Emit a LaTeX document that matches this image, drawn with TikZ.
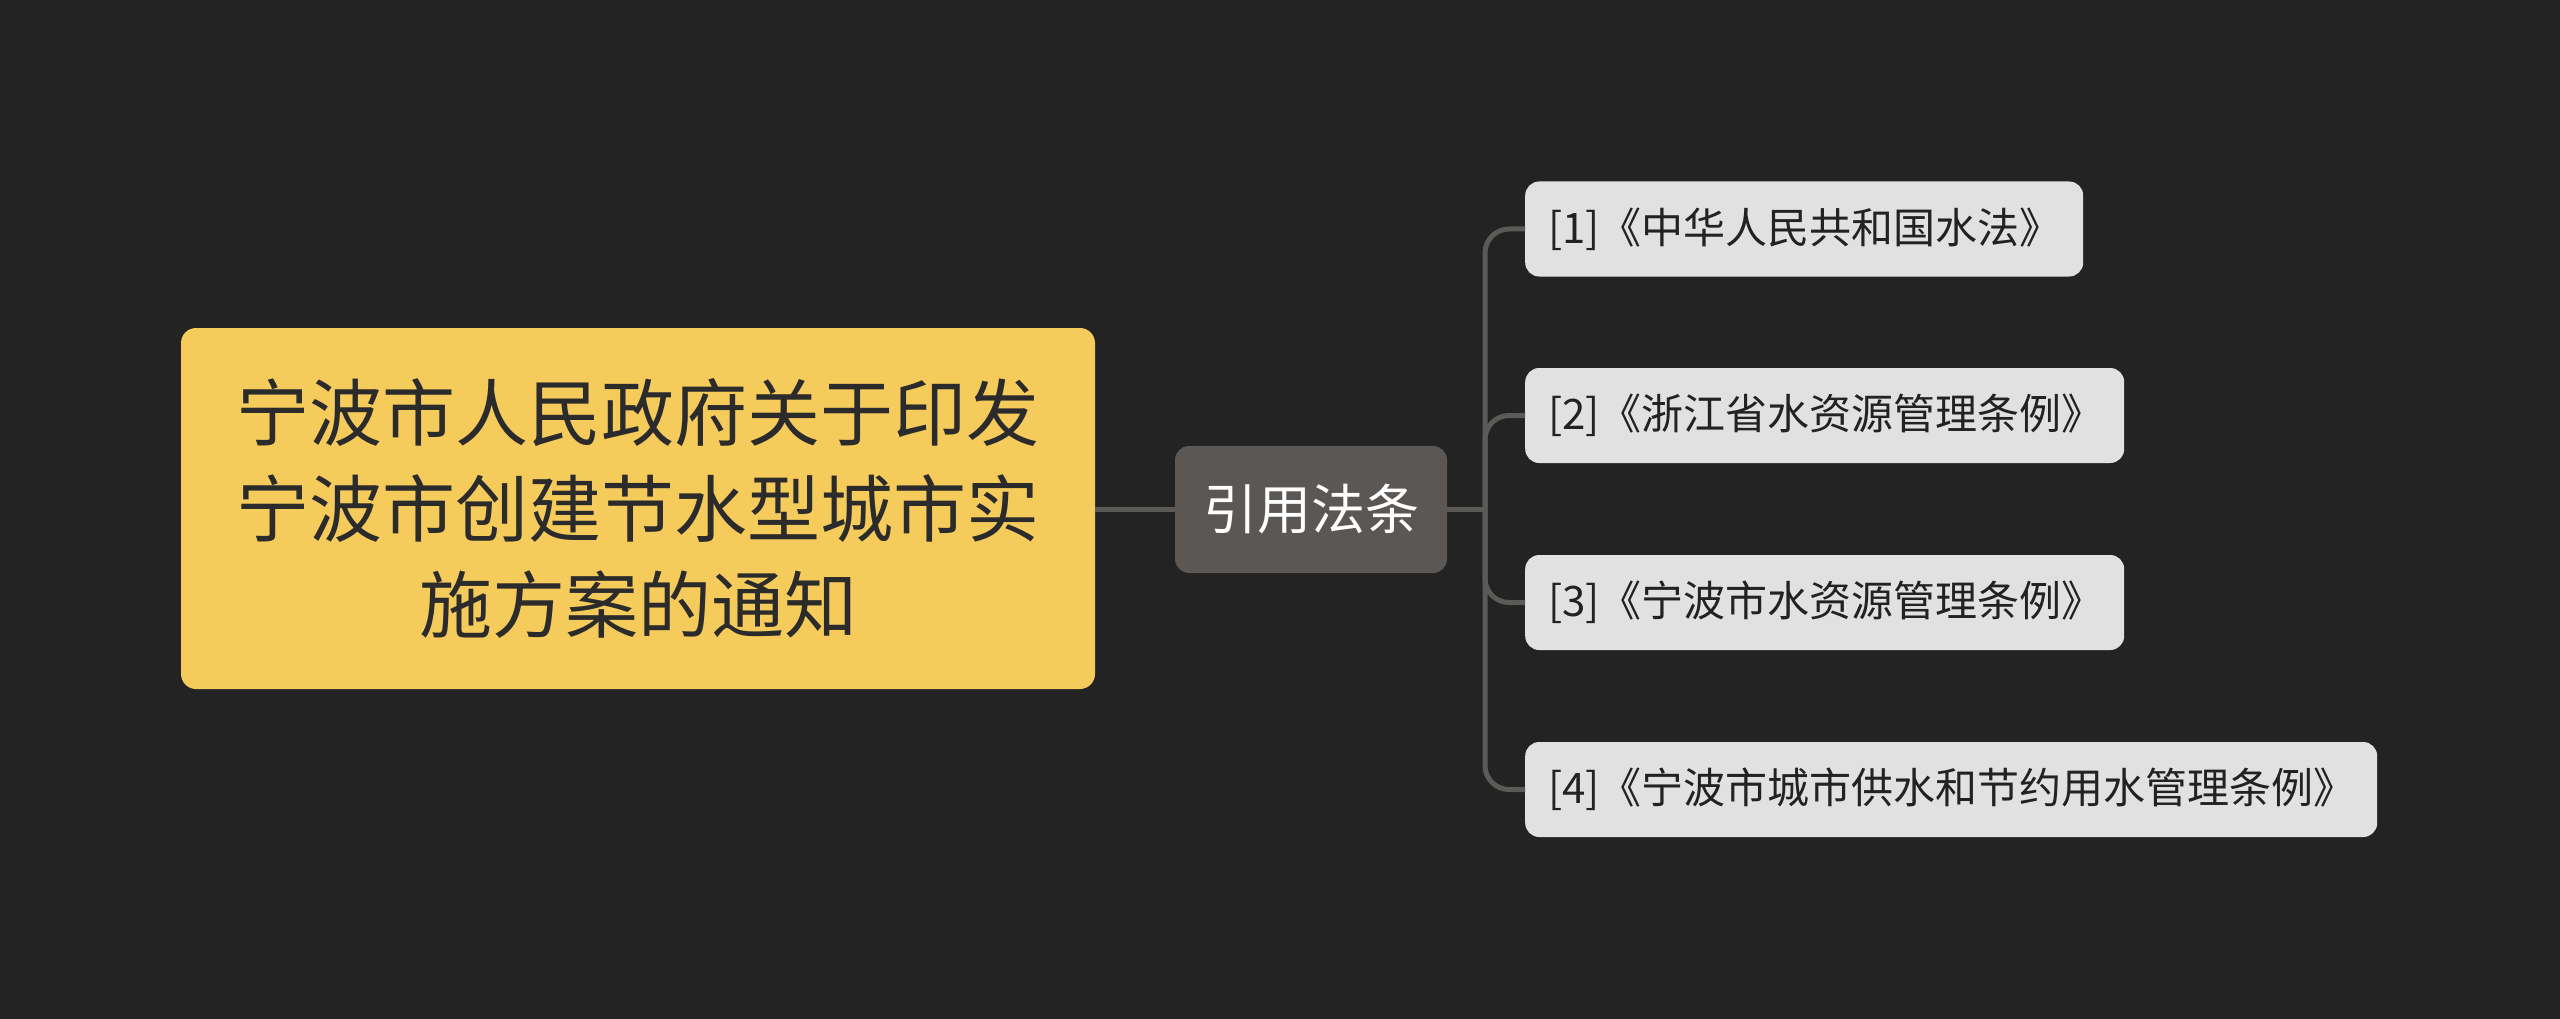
\documentclass[tikz,border=0pt]{standalone}
\usepackage{fontspec}
\newfontfamily\cjk{Noto Sans CJK SC}
\definecolor{bg}{HTML}{232323}
\definecolor{linec}{HTML}{5C5A57}
\definecolor{midfill}{HTML}{5A5754}
\definecolor{leaffill}{HTML}{E1E1E1}
\definecolor{rootfill}{HTML}{F5CB5C}
\definecolor{roottext}{HTML}{2B2B2B}
\definecolor{leaftext}{HTML}{222222}
\tikzset{
  rootbox/.style={fill=rootfill, rounded corners=15pt, minimum width=914pt, minimum height=361pt,
    text=roottext, align=center, inner sep=0pt, font=\cjk\fontsize{73}{96}\selectfont},
  midbox/.style={fill=midfill, rounded corners=14pt, minimum width=272pt, minimum height=127pt,
    text=white, align=center, inner sep=0pt, font=\cjk\fontsize{54}{60}\selectfont},
  leafbox/.style={fill=leaffill, rounded corners=14pt, minimum height=95pt, anchor=west,
    text=leaftext, align=left, inner xsep=23pt, inner ysep=0pt, font=\cjk\fontsize{42}{50}\selectfont},
  conn/.style={draw=linec, line width=5pt},
}
\begin{document}
\begin{tikzpicture}[x=1pt,y=-1pt]
\fill[bg] (0,0) rectangle (2560,1019);
\useasboundingbox (0,0) rectangle (2560,1019);
\node[rootbox] (root) at (638,508.5) {宁波市人民政府关于印发\\宁波市创建节水型城市实\\施方案的通知};
\node[midbox] (mid) at (1311,509.5) {引用法条};
\node[leafbox, text width=512pt] (l1) at (1525,229) {[1]《中华人民共和国水法》};
\node[leafbox, text width=553pt] (l2) at (1525,415.5) {[2]《浙江省水资源管理条例》};
\node[leafbox, text width=553pt] (l3) at (1525,602.5) {[3]《宁波市水资源管理条例》};
\node[leafbox, text width=806pt] (l4) at (1525,789.5) {[4]《宁波市城市供水和节约用水管理条例》};
\coordinate (j) at (1485,509.5);
\draw[conn] (root.east |- mid.west) -- (mid.west);
\draw[conn] (mid.east) -- (j);
\foreach \n in {l1,l2,l3,l4}{
  \draw[conn, rounded corners=24pt] (j) |- (\n.west);
}
\end{tikzpicture}
\end{document}
